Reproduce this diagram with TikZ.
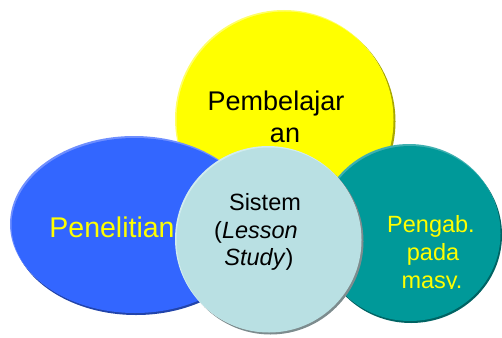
\documentclass[tikz,border=0pt]{standalone}
\usepackage{fontspec}
\setmainfont{Liberation Sans}
\definecolor{yel}{HTML}{FFFF00}
\definecolor{yeldark}{HTML}{A8A800}
\definecolor{yellight}{HTML}{FFFF66}
\definecolor{blu}{HTML}{3366FF}
\definecolor{bludark}{HTML}{2244AA}
\definecolor{blulight}{HTML}{6F8FFF}
\definecolor{teal1}{HTML}{009999}
\definecolor{tealdark}{HTML}{006363}
\definecolor{teallight}{HTML}{3FB0B0}
\definecolor{cen}{HTML}{B9E0E3}
\definecolor{cendark}{HTML}{7D8C8E}
\definecolor{cenlight}{HTML}{D2ECEE}
\tikzset{
  bigtxt/.style={anchor=base, inner sep=0pt, font=\fontsize{27}{32}\selectfont},
  midtxt/.style={anchor=base, inner sep=0pt, font=\fontsize{23.5}{27}\selectfont},
}
\begin{document}
\begin{tikzpicture}[x=1pt,y=-1pt]
\useasboundingbox (0,0) rectangle (502,337);
% yellow circle
\fill[yeldark] (286.5,121.5) circle (109);
\fill[yellight] (284,119) circle (109);
\fill[yel] (285,120) circle (108.5);
% blue ellipse
\fill[bludark] (136,227) ellipse [x radius=124, y radius=88];
\fill[blulight] (134,224) ellipse [x radius=124, y radius=88];
\fill[blu] (135,225.5) ellipse [x radius=123.5, y radius=87.5];
% teal ellipse
\fill[tealdark] (411,235) ellipse [x radius=91, y radius=88];
\fill[teallight] (409,232) ellipse [x radius=91, y radius=88];
\fill[teal1] (410,233.5) ellipse [x radius=90.5, y radius=87.5];
% center circle
\fill[cendark] (270.5,241.5) circle (93);
\fill[cenlight] (268,239) circle (93);
\fill[cen] (269,240) circle (92.5);
% texts
\node[bigtxt] (pa) at (276,110) {Pembelajar};
\node[bigtxt] (pb) at (285,142) {an};
\node[bigtxt, font=\fontsize{28.5}{34}\selectfont, text=yel] (pn) at (112,237) {Penelitian};
\node[midtxt] (s1) at (265,210) {Sistem};
\node[midtxt] (s2) at (256,238) {(\textit{Lesson}};
\node[midtxt] (s3) at (259,265) {\textit{Study})};
\node[midtxt, text=yel] (g1) at (431,232) {Pengab.};
\node[midtxt, text=yel] (g2) at (433,260) {pada};
\begin{scope}
\clip (350,250) rectangle (502,288);
\node[midtxt, text=yel] (g3) at (432,288) {masy.};
\end{scope}
\end{tikzpicture}
\end{document}
